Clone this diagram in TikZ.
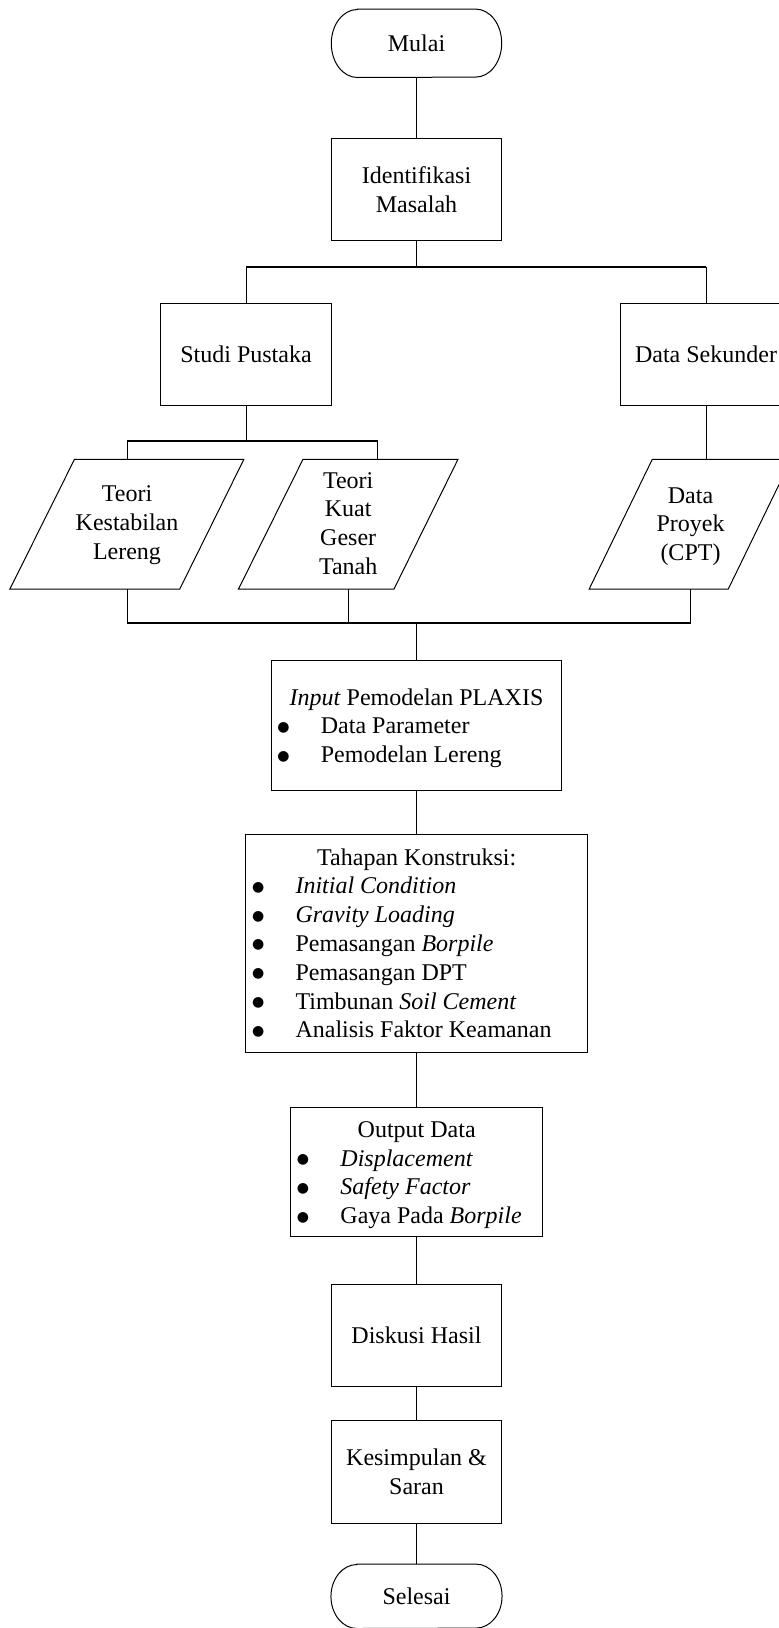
\documentclass[tikz,border=0pt]{standalone}
\usepackage{fontspec}
\setmainfont{Liberation Serif}
\newfontfamily\dejavu{DejaVu Sans}
\tikzset{
  txt/.style={font=\fontsize{24}{28.8}\selectfont, inner sep=0pt},
  box/.style={draw, line width=1pt, txt, align=center},
  term/.style={txt, align=center},
  conn/.style={line width=1pt},
  bus/.style={line width=1.6pt},
  shp/.style={line width=1pt, line join=miter},
}
\newcommand{\bitem}[1]{\hspace*{6pt}\makebox[43.5pt][l]{\raisebox{2.6pt}{\dejavu\fontsize{14}{14}\selectfont ●}}#1\par}
\begin{document}
\begin{tikzpicture}[x=1pt,y=-1pt]
\useasboundingbox (0,0) rectangle (779,1628);
\clip (0,0) rectangle (779,1628);

% terminators
\node[term, minimum width=170pt, minimum height=68pt] (mulai) at (416.5,43.3) {Mulai};
\draw[shp] ([xshift=26pt]mulai.north west) -- ([xshift=-26pt]mulai.north east)
  arc[start angle=90, end angle=-90, x radius=26pt, y radius=34pt]
  -- ([xshift=26pt]mulai.south west)
  arc[start angle=270, end angle=90, x radius=26pt, y radius=34pt] -- cycle;

\node[box, minimum width=170pt, minimum height=102.4pt] (ident) at (416.5,189.5) {Identifikasi\\Masalah};
\node[box, minimum width=170.4pt, minimum height=102.4pt] (studi) at (246,354.5) {Studi Pustaka};
\node[box, minimum width=170.4pt, minimum height=102pt] (sek) at (706,354.3) {Data Sekunder};

% parallelograms
\coordinate (p1tl) at (74.5,459.3); \coordinate (p1tr) at (243.9,459.3);
\coordinate (p1br) at (179.8,589); \coordinate (p1bl) at (9.9,589);
\draw[shp] (p1tl) -- (p1tr) -- (p1br) -- (p1bl) -- cycle;
\node[term] (teori1) at (127,524.9) {Teori\\Kestabilan\\Lereng};
\coordinate (p1top) at (127,459.3); \coordinate (p1bot) at (127,589);

\coordinate (p2tl) at (303,459.3); \coordinate (p2tr) at (458,459.3);
\coordinate (p2br) at (394,589); \coordinate (p2bl) at (238.5,589);
\draw[shp] (p2tl) -- (p2tr) -- (p2br) -- (p2bl) -- cycle;
\node[term] (teori2) at (348.2,523.5) {Teori\\Kuat\\Geser\\Tanah};
\coordinate (p2top) at (377.5,459.3); \coordinate (p2bot) at (348.2,589);

\coordinate (p3tl) at (652.3,459.3); \coordinate (p3tr) at (791.3,459.3);
\coordinate (p3br) at (728.3,589); \coordinate (p3bl) at (589.2,589);
\draw[shp] (p3tl) -- (p3tr) -- (p3br) -- (p3bl) -- cycle;
\node[term] (proyek) at (690.5,526.5) {Data\\Proyek\\(CPT)};
\coordinate (p3top) at (706,459.3); \coordinate (p3bot) at (690.5,589);

% list boxes
\node[draw, line width=1pt, minimum width=290.2pt, minimum height=129.3pt, inner sep=0pt] (input) at (416.5,725.35) {};
\node[txt, anchor=base west] (inputtxt) at (271.2,705) {\parbox[t]{290.2pt}{\centering\textit{Input} Pemodelan PLAXIS\par\raggedright
  \bitem{Data Parameter}\bitem{Pemodelan Lereng}}};

\node[draw, line width=1pt, minimum width=341.3pt, minimum height=218.4pt, inner sep=0pt] (tahap) at (416.5,943.5) {};
\node[txt, anchor=base west] (tahaptxt) at (245.85,865) {\parbox[t]{341.3pt}{\centering Tahapan Konstruksi:\par\raggedright
  \bitem{\textit{Initial Condition}}\bitem{\textit{Gravity Loading}}\bitem{Pemasangan \textit{Borpile}}\bitem{Pemasangan DPT}\bitem{Timbunan \textit{Soil Cement}}\bitem{Analisis Faktor Keamanan}}};

\node[draw, line width=1pt, minimum width=251.5pt, minimum height=129.4pt, inner sep=0pt] (output) at (416.5,1172) {};
\node[txt, anchor=base west] (outputtxt) at (290.75,1137.3) {\parbox[t]{251.5pt}{\centering Output Data\par\raggedright
  \bitem{\textit{Displacement}}\bitem{\textit{Safety Factor}}\bitem{Gaya Pada \textit{Borpile}}}};

\node[box, minimum width=170.7pt, minimum height=102.4pt] (diskusi) at (416.5,1335.5) {Diskusi Hasil};
\node[box, minimum width=170.7pt, minimum height=102.3pt] (simpul) at (416.5,1471.9) {Kesimpulan \&\\Saran};

\node[term, minimum width=170.7pt, minimum height=64pt] (selesai) at (416.5,1596.3) {Selesai};
\draw[shp] ([xshift=26pt]selesai.north west) -- ([xshift=-26pt]selesai.north east)
  arc[start angle=90, end angle=-90, x radius=26pt, y radius=32pt]
  -- ([xshift=26pt]selesai.south west)
  arc[start angle=270, end angle=90, x radius=26pt, y radius=32pt] -- cycle;

% connectors
\coordinate (b1) at (416.5,266.7);
\coordinate (b2) at (246,440.7);
\coordinate (b3) at (416.5,622.7);

\draw[conn] (mulai.south) -- (ident.north);
\draw[conn] (ident.south) -- (b1);
\draw[bus] (studi.north |- b1) -- (sek.north |- b1);
\draw[conn] (studi.north |- b1) -- (studi.north);
\draw[conn] (sek.north |- b1) -- (sek.north);

\draw[conn] (studi.south) -- (b2);
\draw[bus] (p1top |- b2) -- (p2top |- b2);
\draw[conn] (p1top |- b2) -- (p1top);
\draw[conn] (p2top |- b2) -- (p2top);
\draw[conn] (sek.south) -- (p3top);

\draw[conn] (p1bot) -- (p1bot |- b3);
\draw[conn] (p2bot) -- (p2bot |- b3);
\draw[conn] (p3bot) -- (p3bot |- b3);
\draw[bus] (p1bot |- b3) -- (p3bot |- b3);
\draw[conn] (b3) -- (input.north);

\draw[conn] (input.south) -- (tahap.north);
\draw[conn] (tahap.south) -- (output.north);
\draw[conn] (output.south) -- (diskusi.north);
\draw[conn] (diskusi.south) -- (simpul.north);
\draw[conn] (simpul.south) -- (selesai.north);
\end{tikzpicture}
\end{document}
